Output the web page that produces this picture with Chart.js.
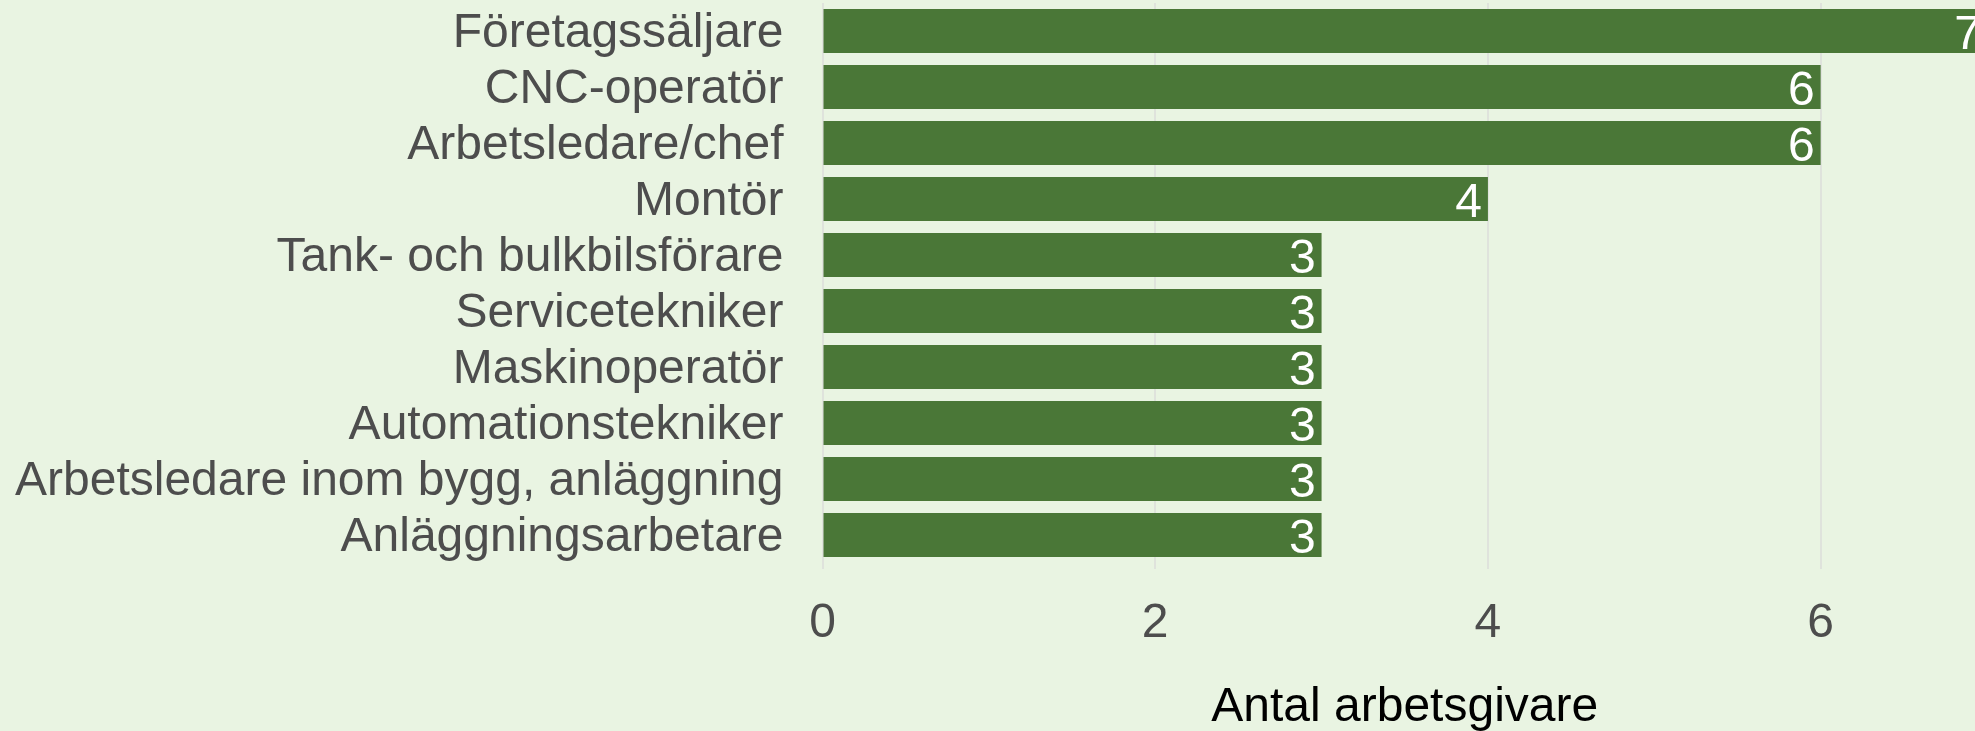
<!DOCTYPE html>
<html lang="sv">
<head>
<meta charset="UTF-8">
<title>Antal arbetsgivare</title>
<script src="https://cdn.jsdelivr.net/npm/chart.js"></script>
<style>
  html, body { margin: 0; padding: 0; background: #e9f4e2; overflow: hidden; }
  #wrap { width: 1975px; height: 731px; overflow: hidden; }
</style>
</head>
<body>
<div id="wrap">
  <canvas id="chart" width="2000" height="731"></canvas>
</div>
<script>
  const categories = [
    'Företagssäljare',
    'CNC-operatör',
    'Arbetsledare/chef',
    'Montör',
    'Tank- och bulkbilsförare',
    'Servicetekniker',
    'Maskinoperatör',
    'Automationstekniker',
    'Arbetsledare inom bygg, anläggning',
    'Anläggningsarbetare'
  ];
  const values = [7, 6, 6, 4, 3, 3, 3, 3, 3, 3];
  const xTicks = [0, 2, 4, 6];

  const font = 'Liberation Sans, Arial, sans-serif';

  // white value labels inside the bar end
  const barLabels = {
    id: 'barLabels',
    afterDatasetsDraw(chart) {
      const ctx = chart.ctx;
      const meta = chart.getDatasetMeta(0);
      ctx.save();
      ctx.fillStyle = '#ffffff';
      ctx.font = '48px ' + font;
      ctx.textAlign = 'right';
      ctx.textBaseline = 'middle';
      meta.data.forEach((bar, i) => {
        ctx.fillText(String(values[i]), bar.x - 6, bar.y + 5);
      });
      ctx.restore();
    }
  };

  new Chart(document.getElementById('chart'), {
    type: 'bar',
    data: {
      labels: categories,
      datasets: [{
        data: values,
        backgroundColor: '#4a7737',
        borderWidth: 0,
        categoryPercentage: 1,
        barPercentage: 0.79
      }]
    },
    options: {
      indexAxis: 'y',
      responsive: false,
      animation: false,
      layout: { padding: { top: 3, right: 13, left: 0, bottom: 0 } },
      plugins: { legend: { display: false }, tooltip: { enabled: false } },
      scales: {
        x: {
          min: 0,
          max: 7,
          afterBuildTicks: (scale) => { scale.ticks = xTicks.map(v => ({ value: v })); },
          afterFit: (scale) => { scale.height = 168; },
          border: { display: false },
          grid: { color: '#dfe3dc', lineWidth: 2, tickLength: 6 },
          ticks: { color: '#4d4d4d', font: { family: font, size: 48 }, padding: 26 },
          title: {
            display: true,
            text: 'Antal arbetsgivare',
            color: '#000000',
            font: { family: font, size: 48 },
            padding: { top: 27, bottom: -6 }
          }
        },
        y: {
          afterFit: (scale) => {
            scale.width = 822.5;
            scale.paddingTop = 0;
            scale.paddingBottom = 0;
          },
          border: { display: false },
          grid: { display: false, drawTicks: false },
          ticks: { color: '#4d4d4d', font: { family: font, size: 48 }, padding: 39, autoSkip: false, labelOffset: 3 }
        }
      }
    },
    plugins: [barLabels]
  });
</script>
</body>
</html>
